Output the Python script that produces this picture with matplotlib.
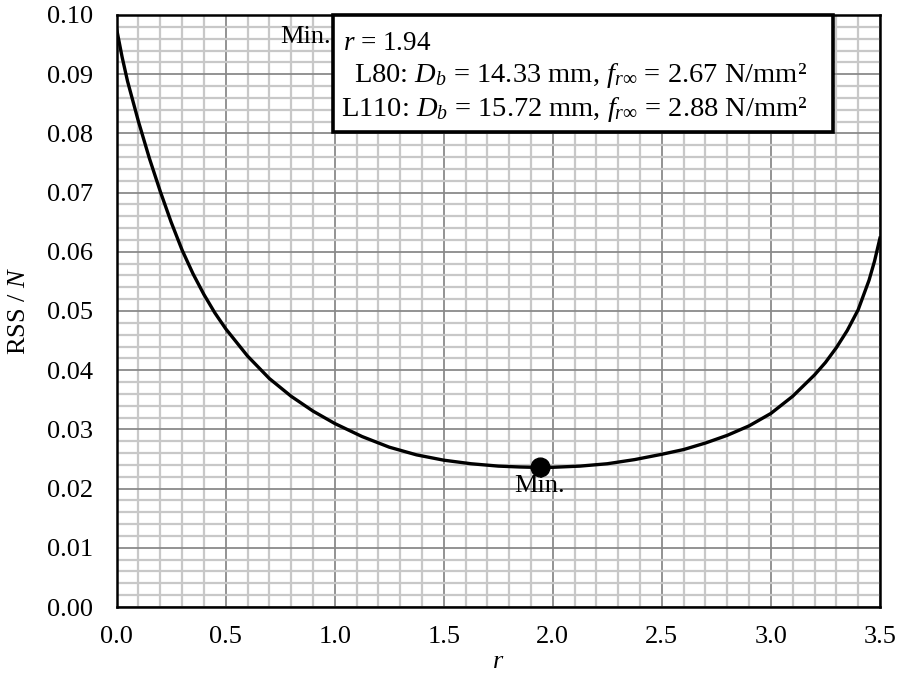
import matplotlib
matplotlib.use("Agg")
import matplotlib.pyplot as plt
from matplotlib.patches import Rectangle
from matplotlib.ticker import MultipleLocator

plt.rcParams['font.family'] = ['Liberation Serif', 'DejaVu Serif']
plt.rcParams['mathtext.fontset'] = 'custom'
plt.rcParams['mathtext.rm'] = 'Liberation Serif'
plt.rcParams['mathtext.it'] = 'Liberation Serif:italic'
plt.rcParams['mathtext.bf'] = 'Liberation Serif:bold'

# Data
r_vals = [0.0, 0.025, 0.05, 0.1, 0.15, 0.2, 0.25, 0.3, 0.35, 0.4, 0.45,
          0.5, 0.6, 0.7, 0.8, 0.9, 1.0, 1.125, 1.25, 1.375, 1.5, 1.625, 1.75, 1.85,
          1.94, 2.0, 2.125, 2.25, 2.375, 2.5, 2.6, 2.7, 2.8, 2.9, 3.0, 3.1, 3.2,
          3.25, 3.3, 3.35, 3.4, 3.45, 3.475, 3.5]
rss_vals = [0.0976, 0.0929, 0.0888, 0.0820, 0.0758, 0.0702, 0.0650, 0.0603,
            0.0563, 0.0528, 0.0497, 0.0470, 0.0424, 0.0386, 0.0356, 0.0331,
            0.0310, 0.0288, 0.0270, 0.0257, 0.0248, 0.0242, 0.0238, 0.02365,
            0.02357, 0.0236, 0.0238, 0.0242, 0.0249, 0.0258, 0.0266, 0.0277,
            0.0290, 0.0306, 0.0327, 0.0356, 0.0392, 0.0413, 0.0438, 0.0467,
            0.0502, 0.0552, 0.0584, 0.0623]
r_min = 1.94
rss_min = 0.02357

xticks = [0.0, 0.5, 1.0, 1.5, 2.0, 2.5, 3.0, 3.5]
yticks = [0.00, 0.01, 0.02, 0.03, 0.04, 0.05, 0.06, 0.07, 0.08, 0.09, 0.10]

box_lines = [r"$r$ = 1.94",
             r"L80: $D_b$ = 14.33 mm, $f_{r\infty}$ = 2.67 N/mm²",
             r"L110: $D_b$ = 15.72 mm, $f_{r\infty}$ = 2.88 N/mm²"]

fig = plt.figure(figsize=(8.98, 6.78), dpi=100)
ax = fig.add_axes([0.1299, 0.1047, 0.8500, 0.8732])

ax.set_xlim(0, 3.5)
ax.set_ylim(0, 0.1)
ax.set_xticks(xticks)
ax.set_yticks(yticks)
ax.set_xticklabels([f"{v:.1f}" for v in xticks])
ax.set_yticklabels([f"{v:.2f}" for v in yticks])
ax.xaxis.set_minor_locator(MultipleLocator(0.1))
ax.yaxis.set_minor_locator(MultipleLocator(0.002))
ax.grid(True, which='minor', color='#c8c8c8', linewidth=1.6, zorder=0)
ax.grid(True, which='major', color='#8a8a8a', linewidth=1.3, zorder=0.5)
ax.set_axisbelow(True)
ax.tick_params(which='both', length=0, labelsize=19)
ax.tick_params(axis='y', pad=17)
ax.tick_params(axis='x', pad=14)
for s in ax.spines.values():
    s.set_linewidth(1.8)
    s.set_color('black')
    s.set_zorder(5)

ax.plot(r_vals, rss_vals, color='black', linewidth=2.4, zorder=3,
        solid_joinstyle='round')
ax.plot([r_min], [rss_min], 'o', color='black', markersize=13.5, zorder=4)
ax.text(r_min, rss_min - 0.0013, "Min.", ha='center', va='top', fontsize=19, zorder=4)

ax.set_xlabel(r"$r$", fontsize=19, labelpad=2)
ax.set_ylabel(r"RSS / $N$", fontsize=19, labelpad=12)

# Annotation box
bx0, bx1 = 0.283, 0.938
by0, by1 = 0.803, 1.0
rect = Rectangle((bx0, by0), bx1 - bx0, by1 - by0, transform=ax.transAxes,
                 facecolor='white', edgecolor='black', linewidth=2.6, zorder=6,
                 clip_on=False)
ax.add_patch(rect)
ax.text(bx0 + 0.013, 0.952, box_lines[0], transform=ax.transAxes, ha='left',
        va='center', fontsize=19.5, zorder=7)
ax.text(0.905, 0.897, box_lines[1], transform=ax.transAxes, ha='right',
        va='center', fontsize=20.5, zorder=7)
ax.text(0.905, 0.841, box_lines[2], transform=ax.transAxes, ha='right',
        va='center', fontsize=20.5, zorder=7)
ax.text(bx0 - 0.002, 0.963, "Min.", transform=ax.transAxes, ha='right',
        va='center', fontsize=19, zorder=7)

fig.savefig("out.png", dpi=100)
